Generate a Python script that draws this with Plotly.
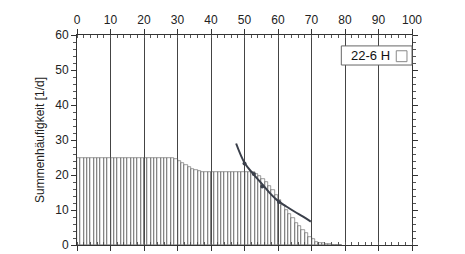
import plotly.graph_objects as go

# ---- data ----
bar_x = list(range(0, 79))
bar_y = ([25.0] * 28 +
         [24.9, 24.6, 24.1, 23.5, 22.9, 22.3, 21.8, 21.4, 21.1, 20.9] +
         [20.8] * 15 +
         [20.3, 19.6, 18.8, 17.9, 16.9, 15.7, 14.3, 12.9, 11.5, 10.1,
          8.8, 7.6, 6.4, 5.3, 4.3, 3.3, 2.4, 1.6, 1.0, 0.7,
          0.45, 0.3, 0.2, 0.12, 0.06, 0.03])

fit_x = [47.5, 50.0, 52.5, 55.0, 57.5, 60.0, 62.5, 65.0, 67.5, 69.8]
fit_y = [29.0, 23.5, 20.4, 17.7, 14.9, 12.6, 11.0, 9.5, 8.1, 6.7]

pt_x = [50.0, 52.8, 55.3, 60.3]
pt_y = [23.3, 20.3, 16.7, 12.3]

x_ticks = list(range(0, 101, 10))
y_ticks = list(range(0, 61, 10))
legend_label = "22-6 H"
y_title = "Summenhäufigkeit [1/d]"

FONT = "Liberation Sans, Arial, sans-serif"

fig = go.Figure()
fig.add_trace(go.Bar(
    x=[v + 0.5 for v in bar_x], y=bar_y, width=1.0,
    marker=dict(color="rgba(255,255,255,0)", line=dict(color="#5a5a5a", width=0.6)),
    showlegend=False, hoverinfo="skip"))
fig.add_trace(go.Scatter(
    x=fit_x, y=fit_y, mode="lines", line=dict(color="#3a3f4a", width=2, shape="spline"),
    showlegend=False))
fig.add_trace(go.Scatter(
    x=pt_x, y=pt_y, mode="markers", marker=dict(color="#3a3f4a", size=4),
    showlegend=False))

fig.update_layout(
    width=465, height=254,
    margin=dict(l=77, r=53, t=35, b=9, autoexpand=False),
    paper_bgcolor="white", plot_bgcolor="white",
    font=dict(family=FONT, size=12, color="#222"),
    bargap=0, showlegend=False,
    xaxis=dict(range=[0, 100], side="top", tickvals=x_ticks, ticks="outside", ticklen=5,
               tickcolor="#333", showline=True, linecolor="#333", linewidth=1, mirror="ticks",
               showgrid=True, gridcolor="#444", gridwidth=1, zeroline=False, automargin=False,
               minor=dict(dtick=2, ticks="inside", ticklen=3, tickcolor="#555", showgrid=False),
               tickfont=dict(size=12, color="#222")),
    yaxis=dict(range=[0, 60], tickvals=y_ticks, ticks="outside", ticklen=5,
               tickcolor="#333", showline=True, linecolor="#333", linewidth=1, mirror="ticks",
               showgrid=False, zeroline=False, automargin=False,
               minor=dict(dtick=2, ticks="outside", ticklen=3, tickcolor="#555", showgrid=False),
               tickfont=dict(size=12, color="#222"),
               title=dict(text=y_title, font=dict(size=12, color="#222"), standoff=8)),
)

# legend-like box (top right)
fig.add_shape(type="rect", xref="paper", yref="paper", x0=0.789, x1=1.0, y0=0.857, y1=0.948,
              line=dict(color="#666", width=1), fillcolor="white", layer="above")
fig.add_shape(type="rect", xref="paper", yref="paper", x0=0.953, x1=0.985, y0=0.873, y1=0.925,
              line=dict(color="#888", width=1), fillcolor="white", layer="above")
fig.add_annotation(xref="paper", yref="paper", x=0.877, y=0.902, text=legend_label,
                   showarrow=False, font=dict(size=13, color="#111"), xanchor="center", yanchor="middle")

fig.write_html("out.html")
